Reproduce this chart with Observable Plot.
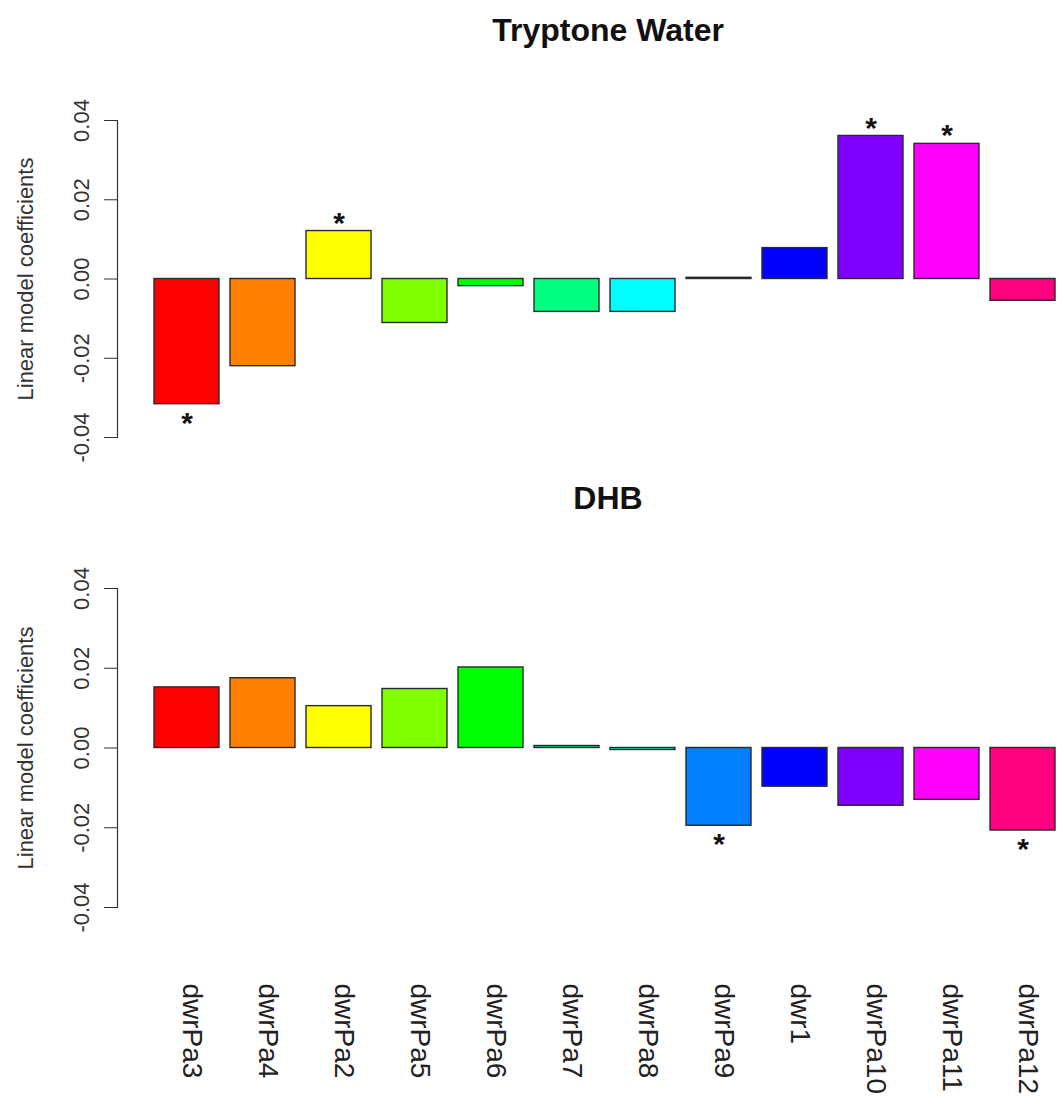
<!DOCTYPE html>
<html><head><meta charset="utf-8">
<script src="https://cdn.jsdelivr.net/npm/d3@7"></script>
<script src="https://cdn.jsdelivr.net/npm/@observablehq/plot@0.6"></script>
<style>
html,body{margin:0;padding:0;background:#fff;}
#chart{width:1058px;}
#chart svg{display:block;}
</style></head><body><div id="chart"></div>
<script>
const strains = ["dwrPa3","dwrPa4","dwrPa2","dwrPa5","dwrPa6","dwrPa7","dwrPa8","dwrPa9","dwr1","dwrPa10","dwrPa11","dwrPa12"];
const barColors = ["#FF0000","#FF8000","#FFFF00","#80FF00","#00FF00","#00FF80","#00FFFF","#0080FF","#0000FF","#8000FF","#FF00FF","#FF0080"];
const tryptoneWater = [-0.0316,-0.0220,0.0121,-0.0111,-0.0018,-0.0083,-0.0083,0.0003,0.0078,0.0361,0.0341,-0.0055];
const tryptoneSig = [true,false,true,false,false,false,false,false,false,true,true,false];
const dhb = [0.0152,0.0175,0.0105,0.0148,0.0202,0.0005,-0.0005,-0.0195,-0.0097,-0.0145,-0.0130,-0.0207];
const dhbSig = [false,false,false,false,false,false,false,true,false,false,false,true];
const yTicks = [-0.04,-0.02,0,0.02,0.04];
const panelTitles = ["Tryptone Water","DHB"];
const yLabel = "Linear model coefficients";

const FONT = '"Liberation Sans", Arial, Helvetica, sans-serif';

function panel(title, values, sig, opts) {
  const rows = strains.map((s, i) => ({strain: s, value: values[i], color: barColors[i], sig: sig[i]}));
  const xOpts = {domain: strains, range: [146.3, 1061.5], paddingInner: 0.15, paddingOuter: 0.075};
  if (!opts.xAxis) xOpts.axis = null;
  const marks = [
    Plot.frame({anchor: "left", stroke: "#333", strokeWidth: 1.2}),
    Plot.axisY({ticks: yTicks, tickFormat: d => d.toFixed(2), tickSize: 13, tickPadding: 16, tickRotate: -90,
      fontSize: 22, label: null, stroke: "#333", fill: "#333"}),
    Plot.barY(rows, {x: "strain", y: "value", fill: "color", stroke: "#2a2a2a", strokeWidth: 1.4}),
    Plot.text(rows, {filter: d => d.sig && d.value > 0, x: "strain", y: "value", text: () => "*", dy: -8,
      fontSize: 30, fontWeight: "bold", fill: "#111"}),
    Plot.text(rows, {filter: d => d.sig && d.value < 0, x: "strain", y: "value", text: () => "*", dy: 19,
      fontSize: 30, fontWeight: "bold", fill: "#111"}),
    Plot.text([title], {text: d => d, frameAnchor: "top", dy: -102, dx: 20, fontSize: 32, fontWeight: "bold", fill: "#111"}),
    Plot.text([yLabel], {text: d => d, frameAnchor: "left", textAnchor: "middle", dx: -92, rotate: -90, fontSize: 22, fill: "#333"})
  ];
  if (opts.xAxis) {
    marks.push(Plot.axisX({tickRotate: 90, tickSize: 0, tickPadding: 76, fontSize: 28, label: null, dx: 5, fill: "#222"}));
  }
  return Plot.plot({
    width: 1058, height: opts.height,
    marginTop: opts.mt, marginBottom: opts.mb, marginLeft: 117, marginRight: 0,
    style: {fontFamily: FONT, background: "white", color: "#222", overflow: "visible"},
    x: xOpts,
    y: {domain: [-0.04, 0.04]},
    color: {type: "identity"},
    marks
  });
}

const chart = document.getElementById("chart");
chart.append(panel(panelTitles[0], tryptoneWater, tryptoneSig, {height: 480, mt: 120, mb: 43, xAxis: false}));
chart.append(panel(panelTitles[1], dhb, dhbSig, {height: 617, mt: 108, mb: 190, xAxis: true}));
</script></body></html>
